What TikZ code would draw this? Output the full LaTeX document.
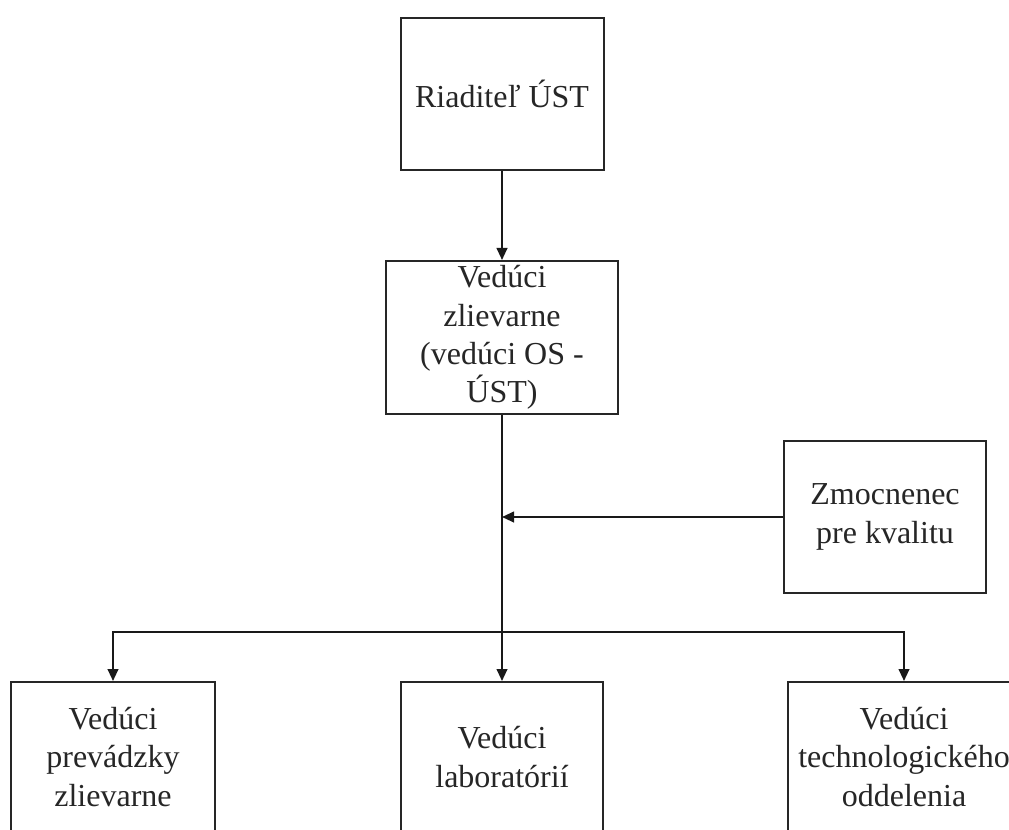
\documentclass[tikz,border=0pt]{standalone}
\usepackage{fontspec}
\setmainfont{Liberation Serif}
\usetikzlibrary{arrows.meta}
\begin{document}
\begin{tikzpicture}[x=0.75pt,y=-0.75pt,
  box/.style={draw=black!85, line width=1.5pt, fill=white, align=center,
    inner sep=0pt, font=\fontsize{24}{28.8}\selectfont, text=black!85},
  link/.style={line width=1.5pt, draw=black!90},
  arr/.style={link, -{Triangle[length=9pt,width=8pt]}}
]
\useasboundingbox (0,0) rectangle (1009,830);
\clip (0,0) rectangle (1009,830);

% boxes of the hierarchy
\node[box, minimum width=152.25pt, minimum height=114pt] (dir) at (502,94) {Riaditeľ ÚST};
\node[box, minimum width=174pt, minimum height=114.75pt] (head) at (502,337.5)
  {Vedúci\\zlievarne\\(vedúci OS -\\ÚST)};
\node[box, minimum width=151.5pt, minimum height=114pt] (qual) at (885,517)
  {Zmocnenec\\pre kvalitu};
\node[box, minimum width=153pt, minimum height=112.5pt] (prod) at (113,757)
  {Vedúci\\prevádzky\\zlievarne};
\node[box, minimum width=151.5pt, minimum height=112.5pt] (lab) at (502,757)
  {Vedúci\\laboratórií};
\node[box, minimum width=174pt, minimum height=112.5pt] (tech) at (904,757)
  {Vedúci\\technologického\\oddelenia};

% junction points on the main vertical line
\coordinate (qjoin) at (502,517);
\coordinate (split) at (502,632);

% connectors
\draw[arr] (dir.south) -- (head.north);
\draw[link] (head.south) -- (split);
\draw[arr] (split) -- (lab.north);
\draw[arr] (split) -| (prod.north);
\draw[arr] (split) -| (tech.north);
\draw[arr] (qual.west) -- (qjoin);
\end{tikzpicture}
\end{document}
